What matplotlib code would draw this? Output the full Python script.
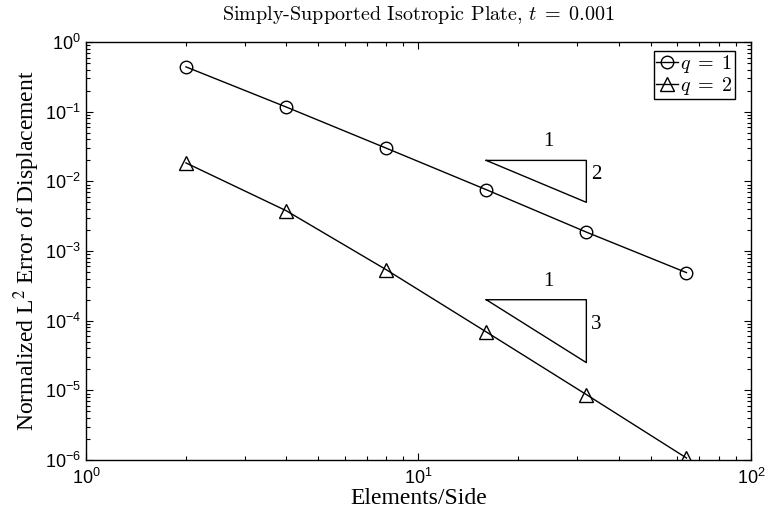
import numpy as np
import matplotlib
matplotlib.use("Agg")
import matplotlib.pyplot as plt
from matplotlib.ticker import LogLocator, NullFormatter

plt.rcParams["mathtext.fontset"] = "custom"
plt.rcParams["mathtext.rm"] = "Liberation Sans"
plt.rcParams["mathtext.it"] = "Liberation Sans:italic"
plt.rcParams["font.family"] = "Liberation Sans"

# data
elements = [2, 4, 8, 16, 32, 64]
err_q1 = [0.44, 0.117, 0.030, 0.0076, 0.00187, 0.00049]
err_q2 = [0.0184, 0.0038, 5.4e-4, 6.9e-5, 8.7e-6, 1.07e-6]

# slope triangles span 16..32, top edge at given error level
tri_x = [16, 32]
tri_tops = [0.02, 2e-4]
tri_orders = [2, 3]

fig = plt.figure(figsize=(7.67, 5.16), dpi=100)
ax = fig.add_axes([0.112, 0.1085, 0.867, 0.81])

ax.loglog(elements, err_q1, "k-", marker="o", markersize=9, mfc="none",
          mew=1.0, lw=1.0, label=r"$q\;=\;1$")
ax.loglog(elements, err_q2, "k-", marker="^", markersize=10, mfc="none",
          mew=1.0, lw=1.0, label=r"$q\;=\;2$")

# slope triangles
for ytop, order in zip(tri_tops, tri_orders):
    x0, x1 = tri_x
    ybot = ytop / 2 ** order
    ax.plot([x0, x1, x1, x0], [ytop, ytop, ybot, ytop], "k-", lw=1.0)
    ax.text(x0 * 2 ** 0.62, ytop * 1.35, "1", ha="center", va="bottom",
            family="Liberation Serif", fontsize=15)
    ax.text(x1 * 1.03, np.sqrt(ytop * ybot) * 1.25, str(order),
            ha="left", va="center", family="Liberation Serif", fontsize=15)

ax.set_xlim(1, 100)
ax.set_ylim(1e-6, 1)
ax.xaxis.set_major_locator(LogLocator(base=10, numticks=10))
ax.yaxis.set_major_locator(LogLocator(base=10, numticks=10))
ax.xaxis.set_minor_locator(LogLocator(base=10, subs=np.arange(2, 10), numticks=20))
ax.yaxis.set_minor_locator(LogLocator(base=10, subs=np.arange(2, 10), numticks=20))
ax.yaxis.set_minor_formatter(NullFormatter())
ax.xaxis.set_minor_formatter(NullFormatter())
ax.tick_params(which="both", direction="in", top=True, right=True,
               labelsize=13, width=0.8)
ax.tick_params(which="major", length=5)
ax.tick_params(which="minor", length=3)
ax.tick_params(axis="x", pad=6)
for sp in ax.spines.values():
    sp.set_linewidth(1.0)

ax.set_title(r"Simply-Supported Isotropic Plate, $t\;=\;0.001$",
             family="cmr10", math_fontfamily="cm", fontsize=14.5, pad=16)
ax.set_xlabel("Elements/Side", family="Liberation Serif", fontsize=17,
              labelpad=0)
ax.set_ylabel("Normalized L$^2$ Error of Displacement",
              family="Liberation Serif", math_fontfamily="stix", fontsize=17,
              labelpad=2)

leg = ax.legend(loc="upper right", bbox_to_anchor=(0.976, 0.979),
                handlelength=1.1, handletextpad=0.1,
                borderpad=0.1, labelspacing=0.0, borderaxespad=0.0,
                fancybox=False, framealpha=1, edgecolor="k",
                prop={"family": "cmr10", "size": 14.5, "math_fontfamily": "cm"})
leg.get_frame().set_linewidth(1.0)

fig.savefig("out.png", dpi=100)
